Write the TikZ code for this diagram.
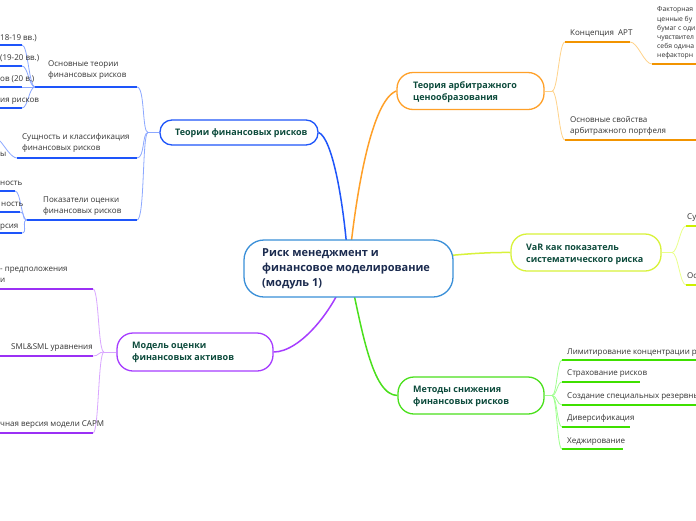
\documentclass[tikz,border=0pt]{standalone}
\usepackage{fontspec}
\setmainfont{Open Sans}
\usetikzlibrary{backgrounds}
\definecolor{cblue}{RGB}{58,143,216}
\definecolor{ctxt}{RGB}{27,43,79}
\definecolor{btxt}{RGB}{13,75,60}
\definecolor{chtxt}{RGB}{51,51,51}
\definecolor{bblue}{RGB}{30,85,250}
\definecolor{lblue}{RGB}{140,168,255}
\definecolor{borange}{RGB}{255,160,40}
\definecolor{uorange}{RGB}{242,148,0}
\definecolor{lorange}{RGB}{255,211,138}
\definecolor{byellow}{RGB}{216,242,58}
\definecolor{uyellow}{RGB}{204,240,0}
\definecolor{lyellow}{RGB}{234,255,138}
\definecolor{bgreen}{RGB}{74,224,28}
\definecolor{ugreen}{RGB}{63,224,0}
\definecolor{lgreen}{RGB}{160,255,144}
\definecolor{bpurple}{RGB}{166,60,255}
\definecolor{upurple}{RGB}{155,48,245}
\definecolor{lpurple}{RGB}{217,166,255}
\newcommand{\ml}[1]{\begin{tabular}[b]{@{}l@{}}#1\end{tabular}}
\tikzset{
  cbox/.style={draw=cblue, line width=1.3pt, fill=white, rounded corners=20pt, inner sep=0pt},
  bbox/.style={line width=1.3pt, fill=white, rounded corners=16pt, inner sep=0pt},
  ctitle/.style={anchor=south west, inner sep=0pt, text depth=0pt, text=ctxt, font=\bfseries\fontsize{11}{15}\selectfont},
  btext/.style={anchor=south west, inner sep=0pt, text depth=0pt, text=btxt, font=\bfseries\fontsize{9}{12}\selectfont},
  ctext/.style={anchor=south west, inner sep=0pt, text depth=0pt, text=chtxt, font=\fontsize{8}{11}\selectfont},
  stext/.style={anchor=south west, inner sep=0pt, text depth=0pt, text=chtxt, font=\fontsize{6.8}{9.2}\selectfont},
  mainline/.style={line width=1.5pt},
  ul/.style={line width=1.8pt},
  thin/.style={line width=0.8pt}
}
\begin{document}
\begin{tikzpicture}[x=1pt,y=-1pt]
\useasboundingbox (0,0) rectangle (696,520);
\clip (0,0) rectangle (696,520);

% ---------- main nodes ----------
\node[cbox, minimum width=209pt, minimum height=57pt] (c) at (348.5,268.5) {};
\node[ctitle] (ct) at (262,287) {\ml{Риск менеджмент и\\финансовое моделирование\\(модуль 1)}};

\node[bbox, draw=bblue, minimum width=158pt, minimum height=25pt, rounded corners=12pt] (t1) at (239,132.5) {};
\node[btext] (t1t) at (175,135.5) {Теории финансовых рисков};

\node[bbox, draw=borange, minimum width=147pt, minimum height=37pt] (t2) at (470.5,91) {};
\node[btext] (t2t) at (413,100.5) {\ml{Теория арбитражного\\ценообразования}};

\node[bbox, draw=byellow, minimum width=150pt, minimum height=37pt] (t3) at (586,252.5) {};
\node[btext] (t3t) at (526,262.5) {\ml{VaR как показатель\\систематического риска}};

\node[bbox, draw=bgreen, minimum width=146pt, minimum height=37pt] (t4) at (471,395.5) {};
\node[btext] (t4t) at (413,404.5) {\ml{Методы снижения\\финансовых рисков}};

\node[bbox, draw=bpurple, minimum width=156pt, minimum height=38pt] (t5) at (195,352) {};
\node[btext] (t5t) at (132,360.5) {\ml{Модель оценки\\финансовых активов}};

% ---------- coordinates ----------
\coordinate (h1) at (148,132.5);
\coordinate (a1) at (35,87);   \coordinate (a2) at (137,87);
\coordinate (b1) at (17,158);  \coordinate (b2) at (137,158);
\coordinate (k1) at (27,220);  \coordinate (k2) at (137,220);
\coordinate (aa1s) at (-2,45);  \coordinate (aa1e) at (22,45);
\coordinate (aa2s) at (-2,66);  \coordinate (aa2e) at (22,66);
\coordinate (aa3s) at (-2,87);  \coordinate (aa3e) at (22,87);
\coordinate (aa4s) at (-2,108); \coordinate (aa4e) at (22,108);
\coordinate (bb1) at (0,141);
\coordinate (kk1s) at (-2,191); \coordinate (kk1e) at (15,191);
\coordinate (kk2s) at (-2,212); \coordinate (kk2e) at (20,212);
\coordinate (kk3s) at (-2,233); \coordinate (kk3e) at (22,233);

\coordinate (h5) at (104,352);
\coordinate (m1s) at (-2,289); \coordinate (m1e) at (93,289);
\coordinate (m2s) at (-2,356); \coordinate (m2e) at (93,356);
\coordinate (m3s) at (-2,433); \coordinate (m3e) at (93,433);

\coordinate (h2) at (552,91);
\coordinate (p1s) at (565,42);  \coordinate (p1e) at (630,42);
\coordinate (pp1s) at (652,64); \coordinate (pp1e) at (700,64);
\coordinate (p2s) at (565,140); \coordinate (p2e) at (700,140);

\coordinate (h3) at (672,252.5);
\coordinate (v1s) at (686,226); \coordinate (v1e) at (700,226);
\coordinate (v2s) at (686,285); \coordinate (v2e) at (700,285);

\coordinate (h4) at (552,395.5);
\coordinate (g1s) at (562,360); \coordinate (g1e) at (700,360);
\coordinate (g2s) at (562,382); \coordinate (g2e) at (640,382);
\coordinate (g3s) at (562,405); \coordinate (g3e) at (700,405);
\coordinate (g4s) at (562,427); \coordinate (g4e) at (630,427);
\coordinate (g5s) at (562,449); \coordinate (g5e) at (623,449);

% ---------- connectors (behind nodes) ----------
\begin{pgfonlayer}{background}
\fill[white] (0,0) rectangle (696,520);
\draw[mainline, bblue] (c.center) .. controls (344,200) and (332,138) .. (t1.east);
\draw[mainline, borange] (c.center) .. controls (356,190) and (372,100) .. (t2.west);
\draw[mainline, byellow] (c.center) .. controls (420,258) and (470,252) .. (t3.west);
\draw[mainline, bgreen] (c.center) .. controls (362,330) and (372,395) .. (t4.west);
\draw[mainline, bpurple] (c.center) .. controls (335,310) and (300,352) .. (t5.east);

\draw[thin, lblue] (t1.west) -- (h1);
\draw[thin, lblue] (h1) .. controls +(-6,0) and +(8,0) .. (a2);
\draw[thin, lblue] (h1) .. controls +(-6,0) and +(8,0) .. (b2);
\draw[thin, lblue] (h1) .. controls +(-6,0) and +(8,0) .. (k2);
\draw[thin, lblue] (a1) .. controls +(-6,0) and +(6,0) .. (aa1e);
\draw[thin, lblue] (a1) .. controls +(-6,0) and +(6,0) .. (aa2e);
\draw[thin, lblue] (a1) -- (aa3e);
\draw[thin, lblue] (a1) .. controls +(-6,0) and +(6,0) .. (aa4e);
\draw[thin, lblue] (b1) .. controls +(-6,0) and +(4,4) .. (bb1);
\draw[thin, lblue] (k1) .. controls +(-6,0) and +(6,0) .. (kk1e);
\draw[thin, lblue] (k1) .. controls +(-6,0) and +(6,0) .. (kk2e);
\draw[thin, lblue] (k1) .. controls +(-6,0) and +(6,0) .. (kk3e);

\draw[thin, lpurple] (t5.west) -- (h5);
\draw[thin, lpurple] (h5) .. controls +(-6,0) and +(6,0) .. (m1e);
\draw[thin, lpurple] (h5) .. controls +(-6,0) and +(6,0) .. (m2e);
\draw[thin, lpurple] (h5) .. controls +(-6,0) and +(6,0) .. (m3e);

\draw[thin, lorange] (t2.east) -- (h2);
\draw[thin, lorange] (h2) .. controls +(6,0) and +(-6,0) .. (p1s);
\draw[thin, lorange] (h2) .. controls +(6,0) and +(-6,0) .. (p2s);
\draw[thin, lorange] (p1e) .. controls +(8,0) and +(-8,0) .. (pp1s);

\draw[thin, lyellow] (t3.east) -- (h3);
\draw[thin, lyellow] (h3) .. controls +(6,0) and +(-6,0) .. (v1s);
\draw[thin, lyellow] (h3) .. controls +(6,0) and +(-6,0) .. (v2s);

\draw[thin, lgreen] (t4.east) -- (h4);
\draw[thin, lgreen] (h4) .. controls +(5,0) and +(-5,0) .. (g1s);
\draw[thin, lgreen] (h4) .. controls +(5,0) and +(-5,0) .. (g2s);
\draw[thin, lgreen] (h4) .. controls +(5,0) and +(-5,0) .. (g3s);
\draw[thin, lgreen] (h4) .. controls +(5,0) and +(-5,0) .. (g4s);
\draw[thin, lgreen] (h4) .. controls +(5,0) and +(-5,0) .. (g5s);
\end{pgfonlayer}

% ---------- underlines ----------
\draw[ul, bblue] (a1) -- (a2);
\draw[ul, bblue] (b1) -- (b2);
\draw[ul, bblue] (k1) -- (k2);
\draw[ul, bblue] (aa1s) -- (aa1e);
\draw[ul, bblue] (aa2s) -- (aa2e);
\draw[ul, bblue] (aa3s) -- (aa3e);
\draw[ul, bblue] (aa4s) -- (aa4e);
\draw[ul, bblue] (kk1s) -- (kk1e);
\draw[ul, bblue] (kk2s) -- (kk2e);
\draw[ul, bblue] (kk3s) -- (kk3e);

\draw[ul, upurple] (m1s) -- (m1e);
\draw[ul, upurple] (m2s) -- (m2e);
\draw[ul, upurple] (m3s) -- (m3e);

\draw[ul, uorange] (p1s) -- (p1e);
\draw[ul, uorange] (pp1s) -- (pp1e);
\draw[ul, uorange] (p2s) -- (p2e);

\draw[ul, uyellow] (v1s) -- (v1e);
\draw[ul, uyellow] (v2s) -- (v2e);

\draw[ul, ugreen] (g1s) -- (g1e);
\draw[ul, ugreen] (g2s) -- (g2e);
\draw[ul, ugreen] (g3s) -- (g3e);
\draw[ul, ugreen] (g4s) -- (g4e);
\draw[ul, ugreen] (g5s) -- (g5e);

% ---------- child texts ----------
\node[ctext] (at) at (48,77.5) {\ml{Основные теории\\финансовых рисков}};
\node[ctext] (bt) at (22,150.5) {\ml{Сущность и классификация\\финансовых рисков}};
\node[ctext] (kt) at (43,213.5) {\ml{Показатели оценки\\финансовых рисков}};
\node[ctext] (aa1t) at (0,40.5) {18-19 вв.)};
\node[ctext] (aa2t) at (0,61) {(19-20 вв.)};
\node[ctext] (aa3t) at (0,82) {ов (20 в.)};
\node[ctext] (aa4t) at (0,103) {ия рисков};
\node[ctext] (bb1t) at (0,157) {ы};
\node[ctext] (kk1t) at (0,186) {ность};
\node[ctext] (kk2t) at (1,207) {ность};
\node[ctext] (kk3t) at (0,228.5) {рсия};

\node[ctext] (m1t) at (0,283) {\ml{- предположения\\и}};
\node[ctext] (m2t) at (11,350) {SML\&SML уравнения};
\node[ctext] (m3t) at (0,427) {чная версия модели CAPM};

\node[ctext] (p1t) at (570,35.5) {Концепция\ \ APT};
\node[stext] (pp1t) at (657,58) {\ml{Факторная\\ценные бу\\бумаг с оди\\чувствител\\себя одина\\нефакторн}};
\node[ctext] (p2t) at (570,133.5) {\ml{Основные свойства\\арбитражного портфеля}};

\node[ctext] (v1t) at (687,220) {Су};
\node[ctext] (v2t) at (687,279) {Ос};

\node[ctext] (g1t) at (567,354.5) {Лимитирование концентрации р};
\node[ctext] (g2t) at (567,376) {Страхование рисков};
\node[ctext] (g3t) at (567,399) {Создание специальных резервны};
\node[ctext] (g4t) at (567,421) {Диверсификация};
\node[ctext] (g5t) at (567,443.5) {Хеджирование};
\end{tikzpicture}
\end{document}
